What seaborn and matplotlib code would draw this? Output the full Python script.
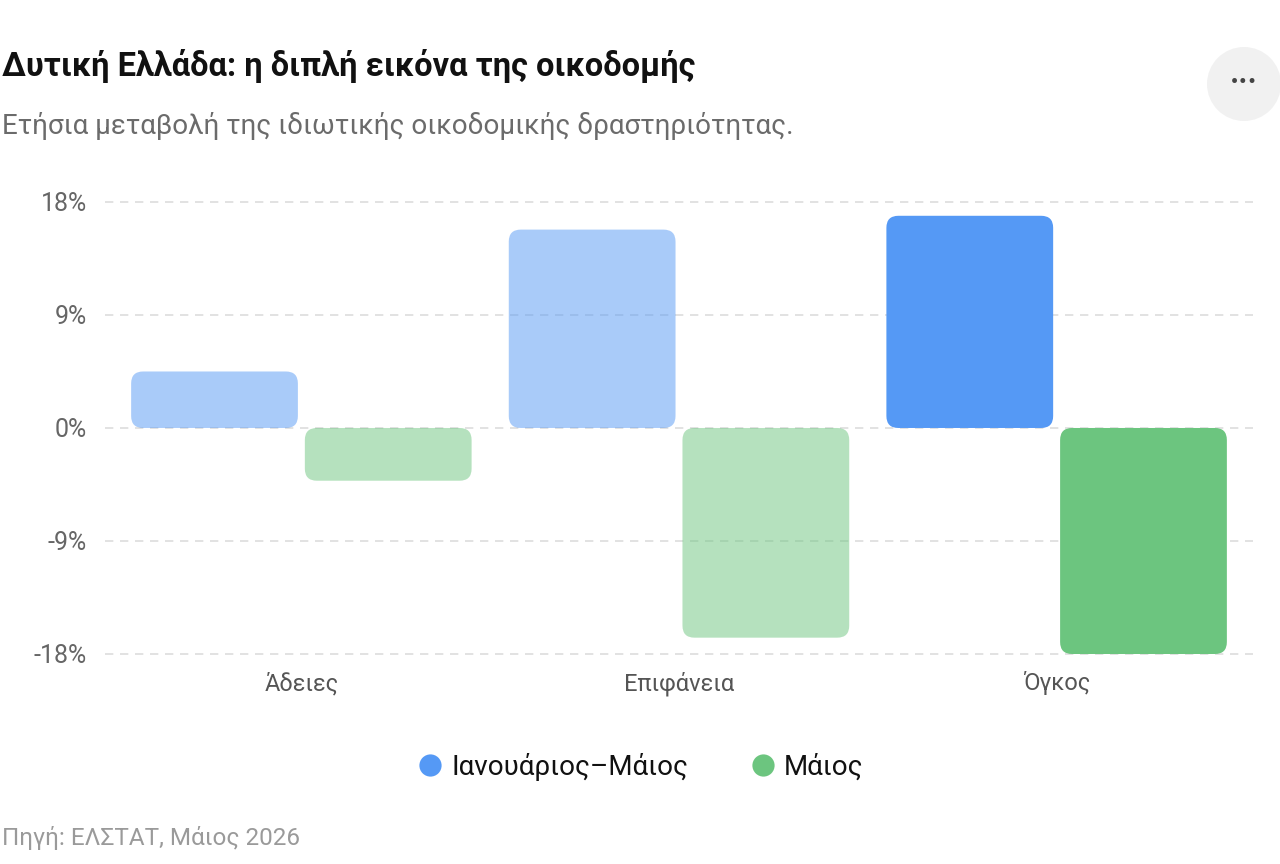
import numpy as np
import pandas as pd
import seaborn as sns
import matplotlib.pyplot as plt
from matplotlib.patches import FancyBboxPatch, Ellipse
from matplotlib.lines import Line2D

categories = ["Άδειες", "Επιφάνεια", "Όγκος"]
series = ["Ιανουάριος–Μάιος", "Μάιος"]
jan_may = [4.5, 15.8, 16.9]
may = [-4.2, -16.7, -18.0]
yticks = [-18, -9, 0, 9, 18]
ytick_labels = ["-18%", "-9%", "0%", "9%", "18%"]
colors = ["#5599f5", "#6cc57f"]
cat_alpha = [0.5, 0.5, 1.0]

df = pd.DataFrame({
    "cat": categories * 2,
    "series": [series[0]] * 3 + [series[1]] * 3,
    "value": jan_may + may,
})

sns.set_theme(style="white")
plt.rcParams["font.family"] = ["Roboto", "DejaVu Sans"]

fig = plt.figure(figsize=(12.8, 8.64), dpi=100)
ax = fig.add_axes([105 / 1280, 0.2358, 1148 / 1280, 0.5377])

sns.barplot(data=df, x="cat", y="value", hue="series", palette=colors,
            width=0.92, gap=0.04, legend=False, ax=ax)

ax.set_xlim(-0.52, 2.52)
ax.set_ylim(-18.5, 18.5)
ax.set_yticks(yticks)
ax.set_yticklabels(ytick_labels)
for y in yticks:
    ax.axhline(y, color="#dddddd", lw=1.2, ls=(0, (5, 4)), zorder=0)
for s in ax.spines.values():
    s.set_visible(False)
ax.tick_params(axis="y", length=0, pad=13, labelsize=18, labelcolor="#666666")
ax.tick_params(axis="x", length=0, pad=8, labelsize=17, labelcolor="#555555")
ax.set_xlabel("")
ax.set_ylabel("")

# rounded bars
fig.canvas.draw()
px_x = ax.transData.transform((1, 0))[0] - ax.transData.transform((0, 0))[0]
px_y = ax.transData.transform((0, 1))[1] - ax.transData.transform((0, 0))[1]
radius_px = 12
r_x = radius_px / px_x
aspect = px_x / px_y
for hi, cont in enumerate(ax.containers):
    for ci, bar in enumerate(cont):
        x, y = bar.get_x(), bar.get_y()
        w, h = bar.get_width(), bar.get_height()
        y0 = min(y, y + h)
        bar.set_visible(False)
        fb = FancyBboxPatch((x, y0), w, abs(h),
                            boxstyle=f"round,pad=0,rounding_size={r_x}",
                            mutation_aspect=aspect,
                            facecolor=colors[hi], alpha=cat_alpha[ci],
                            edgecolor="none", zorder=2)
        ax.add_patch(fb)

fig.text(0.0015, 1 - 66 / 864, "Δυτική Ελλάδα: η διπλή εικόνα της οικοδομής",
         fontsize=23.5, fontweight="bold", color="#111111", va="center")
fig.text(0.0015, 1 - 126 / 864, "Ετήσια μεταβολή της ιδιωτικής οικοδομικής δραστηριότητας.",
         fontsize=20, color="#6b6b6b", va="center")
fig.text(0.0015, 1 - 838 / 864, "Πηγή: ΕΛΣΤΑΤ, Μάιος 2026",
         fontsize=17.5, color="#9a9a9a", va="center")

# menu button
fig.patches.append(Ellipse((1244 / 1280, 1 - 84 / 864), 74 / 1280, 74 / 864,
                           transform=fig.transFigure, facecolor="#f1f1f1",
                           edgecolor="none"))
fig.text(1244 / 1280, 1 - 82 / 864, "···", fontsize=22, color="#444444",
         ha="center", va="center", fontweight="bold")

handles = [Line2D([0], [0], marker="o", color="none", markerfacecolor=c,
                  markeredgecolor="none", markersize=16) for c in colors]
fig.legend(handles, series, loc="center", bbox_to_anchor=(0.5, 1 - 767 / 864),
           ncol=2, frameon=False, fontsize=20, handletextpad=0.25,
           columnspacing=2.2, handlelength=1.0, labelcolor="#111111")

fig.savefig("out.png", dpi=100, facecolor="white")
